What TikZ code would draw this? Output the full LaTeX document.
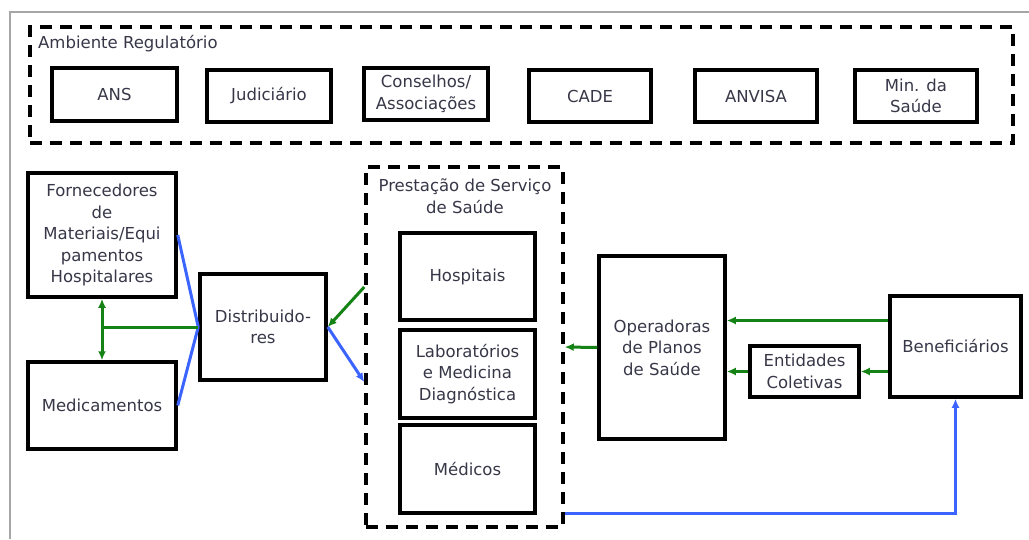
\documentclass[tikz,border=0pt]{standalone}
\usepackage{fontspec}
\setmainfont{DejaVu Sans}
\usetikzlibrary{arrows.meta}
\definecolor{txt}{RGB}{55,55,72}
\definecolor{gr}{RGB}{20,130,20}
\definecolor{bl}{RGB}{60,100,255}
\begin{document}
\begin{tikzpicture}[x=1pt,y=-1pt,
  tfont/.style={font=\fontsize{16.5}{21.5}\selectfont},
  box/.style={draw=black,line width=3.5pt,text=txt,align=center,inner sep=0pt,tfont},
  dbox/.style={draw=black,line width=3.5pt,dash pattern=on 12pt off 8pt,inner sep=0pt},
  lbl/.style={text=txt,align=center,inner sep=0pt,tfont},
  garr/.style={draw=gr,line width=3pt,-{Latex[length=9pt,width=8pt]}},
  gline/.style={draw=gr,line width=3pt},
  barr/.style={draw=bl,line width=3pt,-{Latex[length=9pt,width=8pt]}},
  bline/.style={draw=bl,line width=3pt},
]
\useasboundingbox (0,0) rectangle (1029,539);
\draw[gray!70,line width=2pt] (10,539) -- (10,12) -- (1029,12);

% regulatory environment
\node[dbox,minimum width=983,minimum height=116] (amb) at (521.5,85) {};
\node[lbl,anchor=west] (amblbl) at (38,44) {Ambiente Regulatório};
\node[box,minimum width=125,minimum height=53] (ans) at (114.5,94.5) {ANS};
\node[box,minimum width=124,minimum height=52] (jud) at (269,96) {Judiciário};
\node[box,minimum width=124,minimum height=52] (cons) at (426,94) {Conselhos/\\Associações};
\node[box,minimum width=122,minimum height=52] (cade) at (590,96) {CADE};
\node[box,minimum width=122,minimum height=52] (anvisa) at (756,96) {ANVISA};
\node[box,minimum width=122,minimum height=52] (min) at (916,96) {Min. da\\Saúde};

% left side
\node[box,minimum width=148,minimum height=124] (forn) at (102,235) {Fornecedores\\de\\Materiais/Equi\\pamentos\\Hospitalares};
\node[box,minimum width=148,minimum height=87] (med) at (102,405.5) {Medicamentos};
\node[box,minimum width=126,minimum height=106] (dist) at (263,327) {Distribuido-\\res};

% health services
\node[dbox,minimum width=197,minimum height=360] (prest) at (464.5,347) {};
\node[lbl] (prestlbl) at (465,196) {Prestação de Serviço\\de Saúde};
\node[box,minimum width=135,minimum height=87] (hosp) at (467.5,276.5) {Hospitais};
\node[box,minimum width=135,minimum height=88] (lab) at (467.5,374) {Laboratórios\\e Medicina\\Diagnóstica};
\node[box,minimum width=135,minimum height=88] (medicos) at (467.5,469) {Médicos};

% right side
\node[box,minimum width=126,minimum height=183] (oper) at (662,347.5) {Operadoras\\de Planos\\de Saúde};
\node[box,minimum width=109,minimum height=51] (ent) at (804.5,371.5) {Entidades\\Coletivas};
\node[box,minimum width=131,minimum height=101] (ben) at (955.5,346.5) {Beneficiários};

\coordinate (benup) at ([yshift=26pt]ben.west);

% connectors
\draw[bline] (forn.east) -- (dist.west);
\draw[bline] (med.east) -- (dist.west);
\draw[gline] (forn.south |- dist.west) -- (dist.west);
\draw[draw=gr,line width=3pt,{Latex[length=9pt,width=8pt]}-{Latex[length=9pt,width=8pt]}] (forn.south) -- (med.north);
\draw[garr] ([yshift=60pt]prest.west) -- (dist.east);
\draw[barr] (dist.east) -- ([yshift=-35pt]prest.west);
\draw[garr] (oper.west) -- (prest.east);
\draw[garr] (benup) -- (oper.east |- benup);
\draw[garr] (ben.west |- ent.east) -- (ent.east);
\draw[garr] (ent.west) -- (oper.east |- ent.west);
\draw[barr] ([yshift=-166pt]prest.east) -| (ben.south);
\end{tikzpicture}
\end{document}
